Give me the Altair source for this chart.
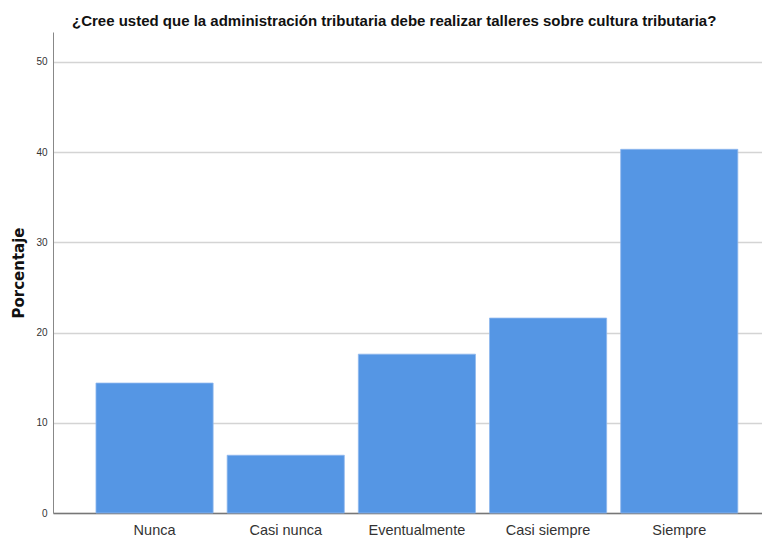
import altair as alt
import pandas as pd

categories = ["Nunca", "Casi nunca", "Eventualmente", "Casi siempre", "Siempre"]
values = [14.4, 6.4, 17.6, 21.6, 40.3]
y_ticks = [0, 10, 20, 30, 40, 50]

df = pd.DataFrame({"cat": categories, "pct": values})

font = "Liberation Sans"

chart = alt.Chart(df).mark_bar(
    color="#5596e4", stroke="#8fb8ee", strokeWidth=0.8
).encode(
    x=alt.X("cat:N", sort=categories, title=None,
            scale=alt.Scale(paddingInner=0.107, paddingOuter=0.256, align=0.64),
            axis=alt.Axis(labelAngle=0, labelFontSize=14.5, labelFont=font,
                          labelColor="#333333", ticks=False, labelPadding=10,
                          domainColor="#777777", domainWidth=1.5)),
    y=alt.Y("pct:Q", title="Porcentaje",
            scale=alt.Scale(domain=[0, 53.3], nice=False),
            axis=alt.Axis(values=y_ticks, labelFontSize=10, labelFont=font,
                          labelColor="#333333", tickSize=0, labelPadding=6,
                          domainColor="#888888", domainWidth=1,
                          grid=True, gridColor="#d4d4d4", gridWidth=1.5,
                          titleFont="DejaVu Sans", titleFontSize=15, titleFontWeight="bold",
                          titleColor="#111111", titlePadding=9)),
).properties(
    width=709,
    height=481,
    autosize=alt.AutoSizeParams(type="none"),
    padding={"left": 45, "top": 24, "right": 0, "bottom": 30},
    title=alt.TitleParams(
        "¿Cree usted que la administración tributaria debe realizar talleres  sobre cultura tributaria?",
        font=font, fontSize=15, fontWeight="bold", color="#111111",
        anchor="start", frame="group", dx=19, offset=3),
).configure_view(stroke=None)

chart.save("out.html", embed_options={"renderer": "svg", "actions": False})
